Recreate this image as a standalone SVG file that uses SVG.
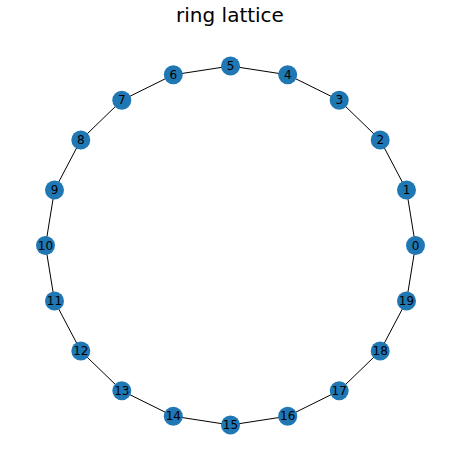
<svg xmlns="http://www.w3.org/2000/svg" width="460" height="470" viewBox="0 0 460 470">
<style>
.n circle{fill:#1f77b4;}
.n text{font-family:"DejaVu Sans",sans-serif;font-size:12px;fill:#000;text-anchor:middle;dominant-baseline:central;}
.e line{stroke:#000;stroke-width:1;}
.t{font-family:"DejaVu Sans",sans-serif;font-size:20px;text-anchor:middle;fill:#000;}
</style>
<rect width="460" height="470" fill="#fff"/>
<text class="t" x="230" y="22">ring lattice</text>
<g id="edges" class="e">
<line x1="415.5" y1="245.5" x2="406.5" y2="190.0"/>
<line x1="406.5" y1="190.0" x2="380.2" y2="140.0"/>
<line x1="380.2" y1="140.0" x2="339.2" y2="100.3"/>
<line x1="339.2" y1="100.3" x2="287.7" y2="74.8"/>
<line x1="287.7" y1="74.8" x2="230.5" y2="66.0"/>
<line x1="230.5" y1="66.0" x2="173.3" y2="74.8"/>
<line x1="173.3" y1="74.8" x2="121.8" y2="100.3"/>
<line x1="121.8" y1="100.3" x2="80.8" y2="140.0"/>
<line x1="80.8" y1="140.0" x2="54.5" y2="190.0"/>
<line x1="54.5" y1="190.0" x2="45.5" y2="245.5"/>
<line x1="45.5" y1="245.5" x2="54.5" y2="301.0"/>
<line x1="54.5" y1="301.0" x2="80.8" y2="351.0"/>
<line x1="80.8" y1="351.0" x2="121.8" y2="390.7"/>
<line x1="121.8" y1="390.7" x2="173.3" y2="416.2"/>
<line x1="173.3" y1="416.2" x2="230.5" y2="425.0"/>
<line x1="230.5" y1="425.0" x2="287.7" y2="416.2"/>
<line x1="287.7" y1="416.2" x2="339.2" y2="390.7"/>
<line x1="339.2" y1="390.7" x2="380.2" y2="351.0"/>
<line x1="380.2" y1="351.0" x2="406.5" y2="301.0"/>
<line x1="406.5" y1="301.0" x2="415.5" y2="245.5"/>
</g>
<g id="node0" class="n"><circle cx="415.5" cy="245.5" r="9.5"/><text x="415.5" y="245.5">0</text></g>
<g id="node1" class="n"><circle cx="406.5" cy="190.0" r="9.5"/><text x="406.5" y="190.0">1</text></g>
<g id="node2" class="n"><circle cx="380.2" cy="140.0" r="9.5"/><text x="380.2" y="140.0">2</text></g>
<g id="node3" class="n"><circle cx="339.2" cy="100.3" r="9.5"/><text x="339.2" y="100.3">3</text></g>
<g id="node4" class="n"><circle cx="287.7" cy="74.8" r="9.5"/><text x="287.7" y="74.8">4</text></g>
<g id="node5" class="n"><circle cx="230.5" cy="66.0" r="9.5"/><text x="230.5" y="66.0">5</text></g>
<g id="node6" class="n"><circle cx="173.3" cy="74.8" r="9.5"/><text x="173.3" y="74.8">6</text></g>
<g id="node7" class="n"><circle cx="121.8" cy="100.3" r="9.5"/><text x="121.8" y="100.3">7</text></g>
<g id="node8" class="n"><circle cx="80.8" cy="140.0" r="9.5"/><text x="80.8" y="140.0">8</text></g>
<g id="node9" class="n"><circle cx="54.5" cy="190.0" r="9.5"/><text x="54.5" y="190.0">9</text></g>
<g id="node10" class="n"><circle cx="45.5" cy="245.5" r="9.5"/><text x="45.5" y="245.5">10</text></g>
<g id="node11" class="n"><circle cx="54.5" cy="301.0" r="9.5"/><text x="54.5" y="301.0">11</text></g>
<g id="node12" class="n"><circle cx="80.8" cy="351.0" r="9.5"/><text x="80.8" y="351.0">12</text></g>
<g id="node13" class="n"><circle cx="121.8" cy="390.7" r="9.5"/><text x="121.8" y="390.7">13</text></g>
<g id="node14" class="n"><circle cx="173.3" cy="416.2" r="9.5"/><text x="173.3" y="416.2">14</text></g>
<g id="node15" class="n"><circle cx="230.5" cy="425.0" r="9.5"/><text x="230.5" y="425.0">15</text></g>
<g id="node16" class="n"><circle cx="287.7" cy="416.2" r="9.5"/><text x="287.7" y="416.2">16</text></g>
<g id="node17" class="n"><circle cx="339.2" cy="390.7" r="9.5"/><text x="339.2" y="390.7">17</text></g>
<g id="node18" class="n"><circle cx="380.2" cy="351.0" r="9.5"/><text x="380.2" y="351.0">18</text></g>
<g id="node19" class="n"><circle cx="406.5" cy="301.0" r="9.5"/><text x="406.5" y="301.0">19</text></g>
</svg>
